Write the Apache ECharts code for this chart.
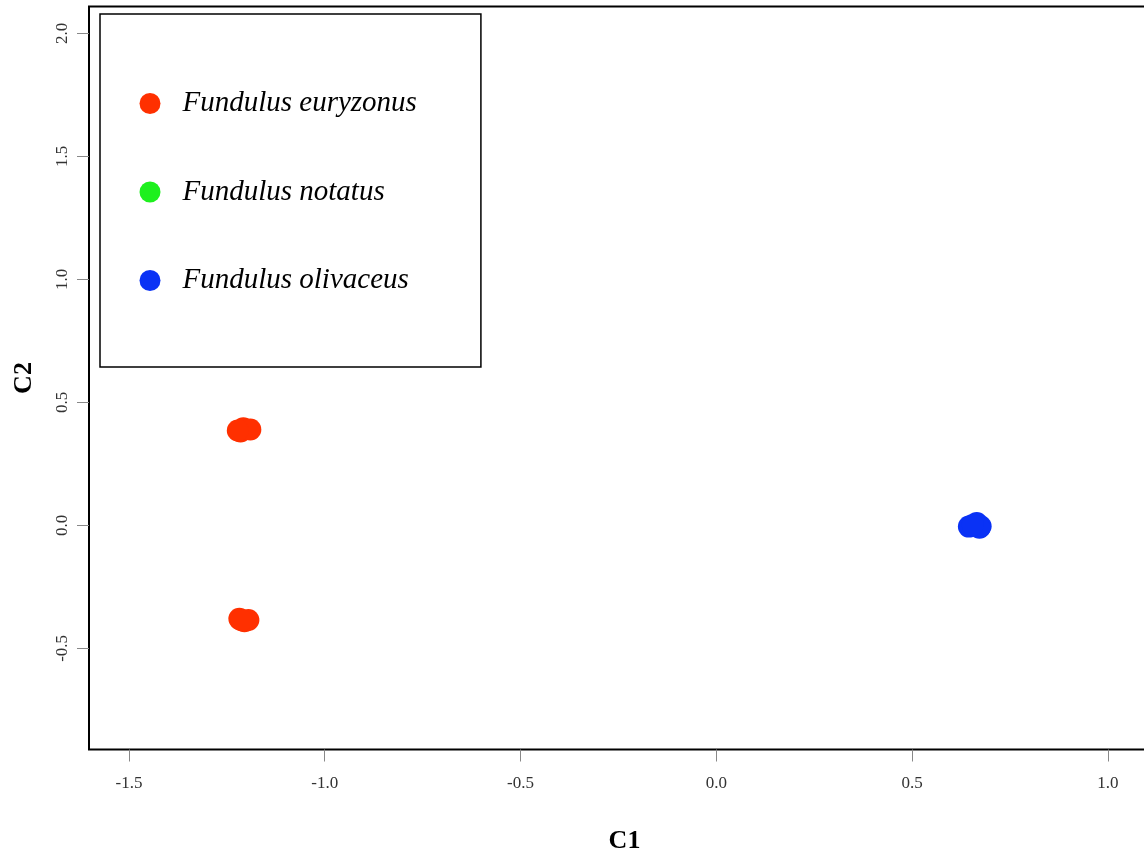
<!DOCTYPE html>
<html>
<head>
<meta charset="utf-8">
<script src="https://cdn.jsdelivr.net/npm/echarts@6/dist/echarts.min.js"></script>
<style>html,body{margin:0;padding:0;background:#fff}#c{width:1144px;height:856px}</style>
</head>
<body>
<div id="c"></div>
<script>
var speciesNames = ['Fundulus euryzonus', 'Fundulus notatus', 'Fundulus olivaceus'];
var speciesColors = ['#FF3000', '#1EF01E', '#0A32F5'];
var euryzonusPoints = [[-1.215, 0.382], [-1.208, 0.395], [-1.19, 0.39], [-1.222, 0.386],
                       [-1.218, -0.38], [-1.205, -0.39], [-1.195, -0.385], [-1.212, -0.386]];
var notatusPoints = [];
var olivaceusPoints = [[0.645, -0.005], [0.665, 0.01], [0.675, -0.004], [0.672, -0.01], [0.655, 0.002]];
var xTicks = [-1.5, -1.0, -0.5, 0.0, 0.5, 1.0];
var yTicks = [-0.5, 0.0, 0.5, 1.0, 1.5, 2.0];
var xRange = [-1.602, 1.133];
var yRange = [-0.911, 2.109];

var serifFont = '"Liberation Serif", "Times New Roman", serif';
var chart = echarts.init(document.getElementById('c'), null, {renderer: 'canvas'});
var allData = [euryzonusPoints, notatusPoints, olivaceusPoints];

function fmt(v) { return v.toFixed(1); }

chart.setOption({
  animation: false,
  backgroundColor: '#fff',
  grid: {
    left: 89, top: 6.5, height: 743, width: 1071,
    outerBoundsMode: 'none', containLabel: false,
    show: true, borderColor: '#000', borderWidth: 2, backgroundColor: 'transparent'
  },
  legend: {
    left: 100, top: 14,
    orient: 'vertical',
    icon: 'circle',
    itemWidth: 21, itemHeight: 21,
    itemGap: 59.5,
    padding: [75, 64, 72, 39.5],
    borderColor: '#000', borderWidth: 1.5, backgroundColor: '#fff',
    selectedMode: false,
    textStyle: {fontFamily: serifFont, fontStyle: 'italic', fontSize: 29, lineHeight: 29, color: '#000', padding: [0, 0, 0, 17]},
    data: speciesNames
  },
  xAxis: {
    type: 'value',
    min: xRange[0], max: xRange[1],
    name: 'C1', nameLocation: 'middle', nameGap: 79,
    nameTextStyle: {fontFamily: serifFont, fontWeight: 'bold', fontSize: 26, color: '#000'},
    axisLine: {show: false, onZero: false},
    splitLine: {show: false},
    axisTick: {show: true, length: 12, lineStyle: {color: '#888', width: 1}, customValues: xTicks},
    axisLabel: {fontFamily: serifFont, fontSize: 17, color: '#333', margin: 26, customValues: xTicks, formatter: fmt}
  },
  yAxis: {
    type: 'value',
    min: yRange[0], max: yRange[1],
    name: 'C2', nameLocation: 'middle', nameGap: 52,
    nameTextStyle: {fontFamily: serifFont, fontWeight: 'bold', fontSize: 26, color: '#000'},
    axisLine: {show: false, onZero: false},
    splitLine: {show: false},
    axisTick: {show: true, length: 12, lineStyle: {color: '#888', width: 1}, customValues: yTicks},
    axisLabel: {fontFamily: serifFont, fontSize: 17, color: '#333', margin: 18, rotate: 90, customValues: yTicks, formatter: fmt}
  },
  series: speciesNames.map(function (n, i) {
    return {
      name: n, type: 'scatter', symbol: 'circle', symbolSize: 22,
      itemStyle: {color: speciesColors[i], opacity: 1},
      data: allData[i]
    };
  })
});
</script>
</body>
</html>
